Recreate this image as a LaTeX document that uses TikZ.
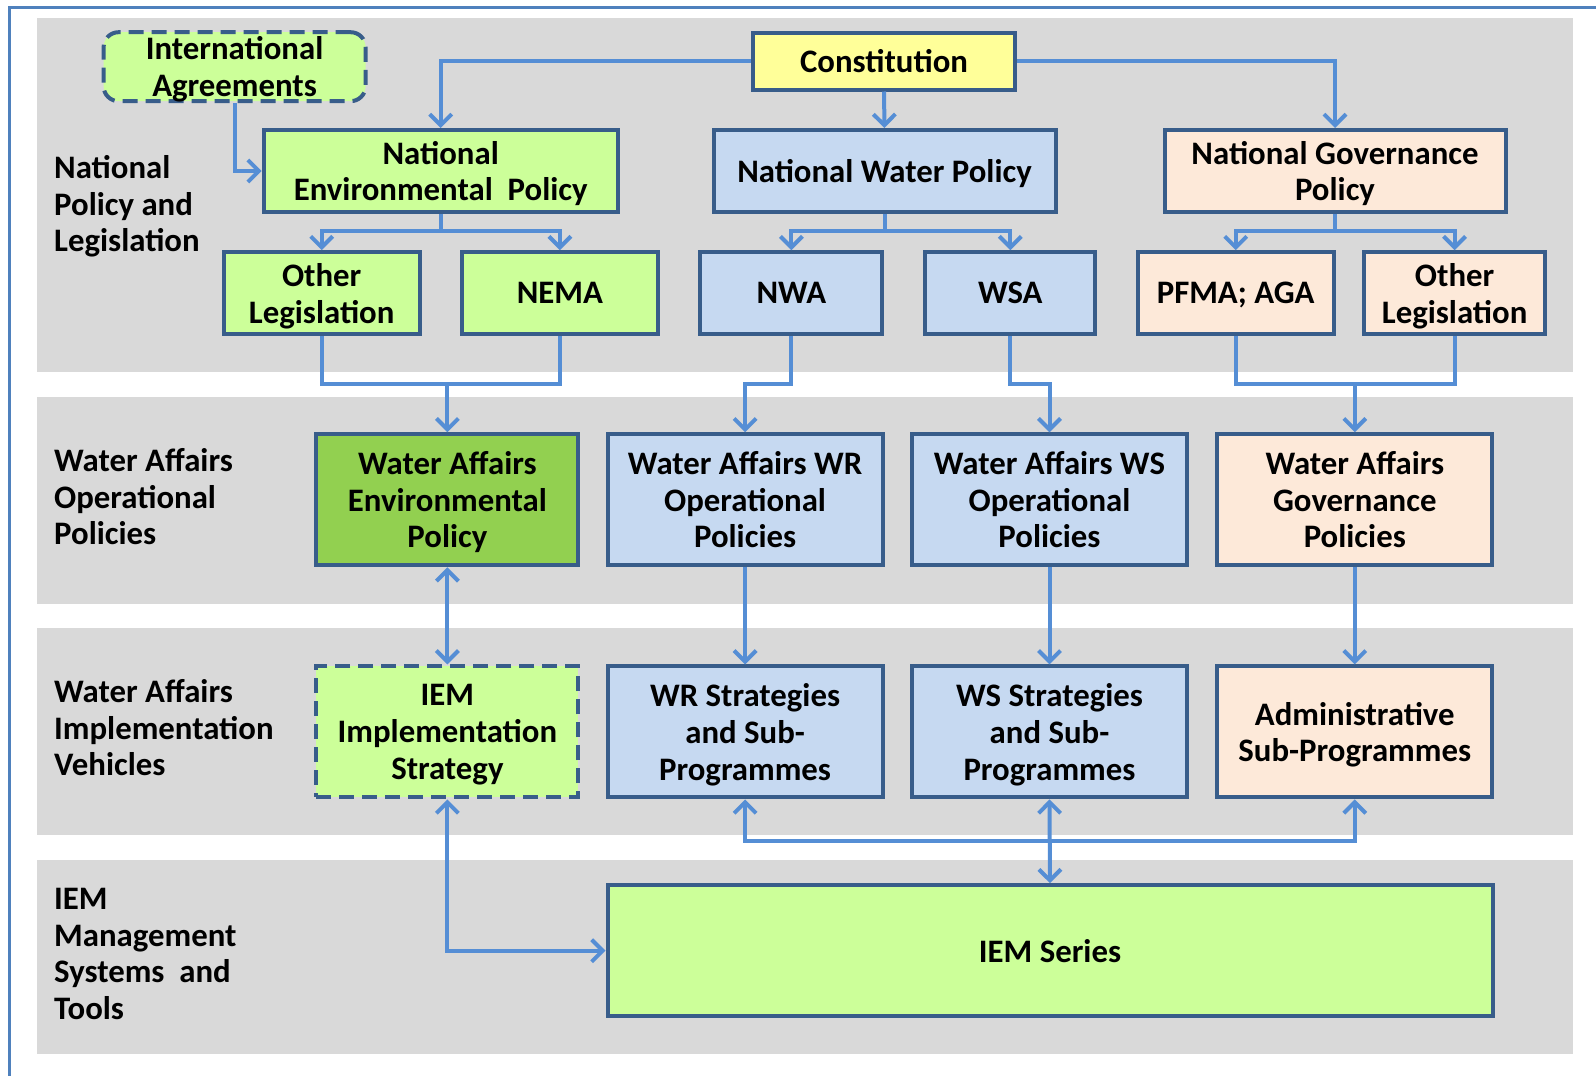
\documentclass[tikz,border=0pt]{standalone}
\usepackage{fontspec}
\setmainfont{Carlito}
\usetikzlibrary{arrows.meta,calc}
\definecolor{frameblue}{HTML}{4F81BD}
\definecolor{boxline}{HTML}{385D8A}
\definecolor{connblue}{HTML}{558ED5}
\definecolor{bandgray}{HTML}{D9D9D9}
\definecolor{lgreen}{HTML}{CCFF99}
\definecolor{dgreen}{HTML}{92D050}
\definecolor{lyellow}{HTML}{FFFF99}
\definecolor{lblue}{HTML}{C6D9F1}
\definecolor{lpeach}{HTML}{FDE9D9}
\tikzset{
  box/.style={draw=boxline, line width=4pt, inner sep=0pt, align=center, text depth=0pt,
    font=\fontsize{32.8}{36.6}\selectfont\bfseries},
  dashbox/.style={box, dash pattern=on 15pt off 8pt},
  lbl/.style={anchor=west, inner sep=0pt, align=left, text depth=0pt,
    font=\fontsize{32.8}{36.6}\selectfont\bfseries},
  link/.style={draw=connblue, line width=4pt},
  conn/.style={link, -{Straight Barb[length=11pt,width=22pt]}},
  bconn/.style={link, {Straight Barb[length=11pt,width=22pt]}-{Straight Barb[length=11pt,width=22pt]}},
  band/.style={fill=bandgray, draw=none}
}
\begin{document}
\begin{tikzpicture}[x=1pt,y=-1pt]
\useasboundingbox (0,0) rectangle (1596,1076);
\fill[white] (0,0) rectangle (1596,1076);
% frame
\draw[frameblue, line width=3pt] (9,1076) -- (9,7) -- (1596,7);
% bands
\path[band] (36.6,18.3) rectangle (1572.7,371.5);
\path[band] (36.6,397) rectangle (1572.7,603.6);
\path[band] (36.6,628) rectangle (1572.7,834.7);
\path[band] (36.6,860) rectangle (1572.7,1053.5);
% left labels
\node[lbl] (l1) at (54,203.6) {National\\Policy and\\Legislation};
\node[lbl] (l2) at (54,496.7) {Water Affairs\\Operational\\Policies};
\node[lbl] (l3) at (54,727.8) {Water Affairs\\Implementation\\Vehicles};
\node[lbl] (l4) at (54,953.8) {IEM\\Management\\Systems\ \ and\\Tools};
% nodes
\node[dashbox, rounded corners=15pt, fill=lgreen, minimum width=262pt, minimum height=69pt] (ia) at (234.6,66.7) {International\\Agreements};
\node[box, fill=lyellow, minimum width=262pt, minimum height=57pt] (const) at (884,61) {Constitution};
\node[box, fill=lgreen, minimum width=354pt, minimum height=82pt] (nep) at (440.7,171) {National\\Environmental\ \ Policy};
\node[box, fill=lblue, minimum width=342pt, minimum height=82pt] (nwp) at (884.5,171) {National Water Policy};
\node[box, fill=lpeach, minimum width=341pt, minimum height=82pt] (ngp) at (1335,171) {National Governance\\Policy};
\node[box, fill=lgreen, minimum width=196pt, minimum height=82pt] (ol1) at (321.7,293.2) {Other\\Legislation};
\node[box, fill=lgreen, minimum width=196pt, minimum height=82pt] (nema) at (559.9,293.2) {NEMA};
\node[box, fill=lblue, minimum width=182pt, minimum height=82pt] (nwa) at (791.4,293.2) {NWA};
\node[box, fill=lblue, minimum width=170pt, minimum height=82pt] (wsa) at (1010.3,293.2) {WSA};
\node[box, fill=lpeach, minimum width=196pt, minimum height=82pt] (pfma) at (1235.7,293.2) {PFMA; AGA};
\node[box, fill=lpeach, minimum width=181pt, minimum height=82pt] (ol2) at (1454.6,293.2) {Other\\Legislation};
\node[box, fill=dgreen, minimum width=262pt, minimum height=131pt] (waep) at (447.4,499.8) {Water Affairs\\Environmental\\Policy};
\node[box, fill=lblue, minimum width=275pt, minimum height=131pt] (wrop) at (745.1,499.8) {Water Affairs WR\\Operational\\Policies};
\node[box, fill=lblue, minimum width=275pt, minimum height=131pt] (wsop) at (1049.5,499.8) {Water Affairs WS\\Operational\\Policies};
\node[box, fill=lpeach, minimum width=275pt, minimum height=131pt] (gov) at (1354.8,499.8) {Water Affairs\\Governance\\Policies};
\node[dashbox, fill=lgreen, minimum width=262pt, minimum height=131pt] (iemi) at (447.4,731.9) {IEM\\Implementation\\Strategy};
\node[box, fill=lblue, minimum width=275pt, minimum height=131pt] (wrs) at (745.1,731.9) {WR Strategies\\and Sub-\\Programmes};
\node[box, fill=lblue, minimum width=275pt, minimum height=131pt] (wss) at (1049.5,731.9) {WS Strategies\\and Sub-\\Programmes};
\node[box, fill=lpeach, minimum width=275pt, minimum height=131pt] (adm) at (1354.8,731.9) {Administrative\\Sub-Programmes};
\node[box, fill=lgreen, minimum width=885pt, minimum height=131pt] (iems) at (1050,950.7) {IEM Series};
% junction coordinates
\coordinate (b1) at (440.7,231);
\coordinate (b2) at (884.5,231);
\coordinate (b3) at (1335,231);
\coordinate (m1) at (447.4,383.7);
\coordinate (m4) at (1354.8,383.7);
\coordinate (bus) at (1049.5,840.8);
% connectors
\draw[conn] (const.west) -| (nep.north);
\draw[conn] (const.east) -| (ngp.north);
\draw[conn] (const.south) -- (nwp.north);
\draw[conn] (ia.south) |- (nep.west);
\draw[link] (nep.south) -- (b1);
\draw[conn] (b1) -| (ol1.north);
\draw[conn] (b1) -| (nema.north);
\draw[link] (nwp.south) -- (b2);
\draw[conn] (b2) -| (nwa.north);
\draw[conn] (b2) -| (wsa.north);
\draw[link] (ngp.south) -- (b3);
\draw[conn] (b3) -| (pfma.north);
\draw[conn] (b3) -| (ol2.north);
\draw[link] (ol1.south) -- (ol1.south |- m1) -- (nema.south |- m1) -- (nema.south);
\draw[conn] (m1) -- (waep.north);
\draw[conn] (nwa.south) -- (nwa.south |- m1) -| (wrop.north);
\draw[conn] (wsa.south) -- (wsa.south |- m1) -| (wsop.north);
\draw[link] (pfma.south) -- (pfma.south |- m4) -- (ol2.south |- m4) -- (ol2.south);
\draw[conn] (m4) -- (gov.north);
\draw[bconn] (waep.south) -- (iemi.north);
\draw[conn] (wrop.south) -- (wrs.north);
\draw[conn] (wsop.south) -- (wss.north);
\draw[conn] (gov.south) -- (adm.north);
\draw[conn] (bus) -| (wrs.south);
\draw[conn] (bus) -| (adm.south);
\draw[bconn] (wss.south) -- (iems.north);
\draw[bconn] (iemi.south) |- (iems.west);
\end{tikzpicture}
\end{document}
